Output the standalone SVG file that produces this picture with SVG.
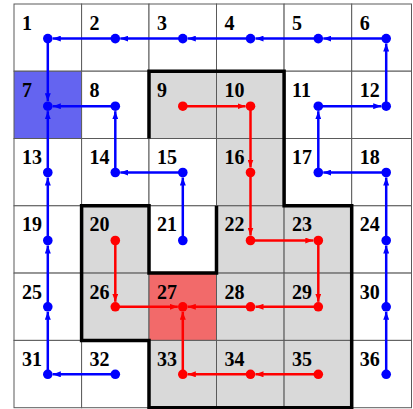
<svg xmlns="http://www.w3.org/2000/svg" width="413" height="409" viewBox="0 0 413 409">
<style>
.c{fill:#ffffff;stroke:#5a5a5a;stroke-width:1}
.g{fill:#d9d9d9;stroke:#5a5a5a;stroke-width:1}
.b{fill:#6464f0;stroke:#5a5a5a;stroke-width:1}
.r{fill:#f26a6a;stroke:#5a5a5a;stroke-width:1}
text{font-family:"Liberation Serif","Times New Roman",serif;font-weight:bold;font-size:20px;fill:#000}
.db{fill:#0000ff}
.dr{fill:#ff0000}
.lb{stroke:#0000ff;stroke-width:2.5;fill:none;marker-end:url(#ab)}
.lr{stroke:#ff0000;stroke-width:2.5;fill:none;marker-end:url(#ar)}
.outline{fill:none;stroke:#000;stroke-width:3.5;stroke-linejoin:miter}
</style>
<defs>
<marker id="ab" viewBox="0 0 8 6" refX="8" refY="3" markerWidth="8" markerHeight="6" markerUnits="userSpaceOnUse" orient="auto"><path d="M0,0 L8,3 L0,6 z" fill="#0000ff"/></marker>
<marker id="ar" viewBox="0 0 8 6" refX="8" refY="3" markerWidth="8" markerHeight="6" markerUnits="userSpaceOnUse" orient="auto"><path d="M0,0 L8,3 L0,6 z" fill="#ff0000"/></marker>
</defs>
<rect x="0" y="0" width="413" height="409" fill="#ffffff"/>
<g id="nodes">
<g id="n1"><rect class="c" x="14" y="4" width="67.6" height="67.2"/><text x="22" y="29.5">1</text><circle class="db" cx="47.8" cy="38.6" r="4.8"/></g>
<g id="n2"><rect class="c" x="81.6" y="4" width="67.4" height="67.2"/><text x="89.6" y="29.5">2</text><circle class="db" cx="115.3" cy="38.6" r="4.8"/></g>
<g id="n3"><rect class="c" x="149" y="4" width="67.5" height="67.2"/><text x="157" y="29.5">3</text><circle class="db" cx="182.8" cy="38.6" r="4.8"/></g>
<g id="n4"><rect class="c" x="216.5" y="4" width="67.6" height="67.2"/><text x="224.5" y="29.5">4</text><circle class="db" cx="250.5" cy="38.6" r="4.8"/></g>
<g id="n5"><rect class="c" x="284.1" y="4" width="67.6" height="67.2"/><text x="292.1" y="29.5">5</text><circle class="db" cx="318.3" cy="38.6" r="4.8"/></g>
<g id="n6"><rect class="c" x="351.7" y="4" width="59.8" height="67.2"/><text x="359.7" y="29.5">6</text><circle class="db" cx="386.2" cy="38.6" r="4.8"/></g>

<g id="n7"><rect class="b" x="14" y="71.2" width="67.6" height="67.3"/><text x="22" y="96.7">7</text><circle class="db" cx="47.8" cy="106.2" r="4.8"/></g>
<g id="n8"><rect class="c" x="81.6" y="71.2" width="67.4" height="67.3"/><text x="89.6" y="96.7">8</text><circle class="db" cx="115.3" cy="106.2" r="4.8"/></g>
<g id="n9"><rect class="g" x="149" y="71.2" width="67.5" height="67.3"/><text x="157" y="96.7">9</text><circle class="dr" cx="182.8" cy="106.2" r="4.8"/></g>
<g id="n10"><rect class="g" x="216.5" y="71.2" width="67.6" height="67.3"/><text x="224.5" y="96.7">10</text><circle class="dr" cx="250.5" cy="106.2" r="4.8"/></g>
<g id="n11"><rect class="c" x="284.1" y="71.2" width="67.6" height="67.3"/><text x="292.1" y="96.7">11</text><circle class="db" cx="318.3" cy="106.2" r="4.8"/></g>
<g id="n12"><rect class="c" x="351.7" y="71.2" width="59.8" height="67.3"/><text x="359.7" y="96.7">12</text><circle class="db" cx="386.2" cy="106.2" r="4.8"/></g>

<g id="n13"><rect class="c" x="14" y="138.5" width="67.6" height="67.3"/><text x="22" y="164">13</text><circle class="db" cx="47.8" cy="172.5" r="4.8"/></g>
<g id="n14"><rect class="c" x="81.6" y="138.5" width="67.4" height="67.3"/><text x="89.6" y="164">14</text><circle class="db" cx="115.3" cy="172.5" r="4.8"/></g>
<g id="n15"><rect class="c" x="149" y="138.5" width="67.5" height="67.3"/><text x="157" y="164">15</text><circle class="db" cx="182.8" cy="172.5" r="4.8"/></g>
<g id="n16"><rect class="g" x="216.5" y="138.5" width="67.6" height="67.3"/><text x="224.5" y="164">16</text><circle class="dr" cx="250.5" cy="172.5" r="4.8"/></g>
<g id="n17"><rect class="c" x="284.1" y="138.5" width="67.6" height="67.3"/><text x="292.1" y="164">17</text><circle class="db" cx="318.3" cy="172.5" r="4.8"/></g>
<g id="n18"><rect class="c" x="351.7" y="138.5" width="59.8" height="67.3"/><text x="359.7" y="164">18</text><circle class="db" cx="386.2" cy="172.5" r="4.8"/></g>

<g id="n19"><rect class="c" x="14" y="205.8" width="67.6" height="67.3"/><text x="22" y="231.3">19</text><circle class="db" cx="47.8" cy="240.5" r="4.8"/></g>
<g id="n20"><rect class="g" x="81.6" y="205.8" width="67.4" height="67.3"/><text x="89.6" y="231.3">20</text><circle class="dr" cx="115.3" cy="240.5" r="4.8"/></g>
<g id="n21"><rect class="c" x="149" y="205.8" width="67.5" height="67.3"/><text x="157" y="231.3">21</text><circle class="db" cx="182.8" cy="240.5" r="4.8"/></g>
<g id="n22"><rect class="g" x="216.5" y="205.8" width="67.6" height="67.3"/><text x="224.5" y="231.3">22</text><circle class="dr" cx="250.5" cy="240.5" r="4.8"/></g>
<g id="n23"><rect class="g" x="284.1" y="205.8" width="67.6" height="67.3"/><text x="292.1" y="231.3">23</text><circle class="dr" cx="318.3" cy="240.5" r="4.8"/></g>
<g id="n24"><rect class="c" x="351.7" y="205.8" width="59.8" height="67.3"/><text x="359.7" y="231.3">24</text><circle class="db" cx="386.2" cy="240.5" r="4.8"/></g>

<g id="n25"><rect class="c" x="14" y="273.1" width="67.6" height="67.3"/><text x="22" y="298.6">25</text><circle class="db" cx="47.8" cy="306.8" r="4.8"/></g>
<g id="n26"><rect class="g" x="81.6" y="273.1" width="67.4" height="67.3"/><text x="89.6" y="298.6">26</text><circle class="dr" cx="115.3" cy="306.8" r="4.8"/></g>
<g id="n27"><rect class="r" x="149" y="273.1" width="67.5" height="67.3"/><text x="157" y="298.6">27</text><circle class="dr" cx="182.8" cy="306.8" r="4.8"/></g>
<g id="n28"><rect class="g" x="216.5" y="273.1" width="67.6" height="67.3"/><text x="224.5" y="298.6">28</text><circle class="dr" cx="250.5" cy="306.8" r="4.8"/></g>
<g id="n29"><rect class="g" x="284.1" y="273.1" width="67.6" height="67.3"/><text x="292.1" y="298.6">29</text><circle class="dr" cx="318.3" cy="306.8" r="4.8"/></g>
<g id="n30"><rect class="c" x="351.7" y="273.1" width="59.8" height="67.3"/><text x="359.7" y="298.6">30</text><circle class="db" cx="386.2" cy="306.8" r="4.8"/></g>

<g id="n31"><rect class="c" x="14" y="340.4" width="67.6" height="67.3"/><text x="22" y="365.9">31</text><circle class="db" cx="47.8" cy="374.3" r="4.8"/></g>
<g id="n32"><rect class="c" x="81.6" y="340.4" width="67.4" height="67.3"/><text x="89.6" y="365.9">32</text><circle class="db" cx="115.3" cy="374.3" r="4.8"/></g>
<g id="n33"><rect class="g" x="149" y="340.4" width="67.5" height="67.3"/><text x="157" y="365.9">33</text><circle class="dr" cx="182.8" cy="374.3" r="4.8"/></g>
<g id="n34"><rect class="g" x="216.5" y="340.4" width="67.6" height="67.3"/><text x="224.5" y="365.9">34</text><circle class="dr" cx="250.5" cy="374.3" r="4.8"/></g>
<g id="n35"><rect class="g" x="284.1" y="340.4" width="67.6" height="67.3"/><text x="292.1" y="365.9">35</text><circle class="dr" cx="318.3" cy="374.3" r="4.8"/></g>
<g id="n36"><rect class="c" x="351.7" y="340.4" width="59.8" height="67.3"/><text x="359.7" y="365.9">36</text><circle class="db" cx="386.2" cy="374.3" r="4.8"/></g>
</g>
<g id="region-outline">
<path class="outline" d="M216.5,205.8 V273.1 H149 V205.8 H81.6 V340.4 H149 V407.7 H351.7 V205.8 H284.1 V71.2 H149 V138.5"/>
</g>
<g id="connectors">
<line class="lb" x1="386.2" y1="38.6" x2="323.3" y2="38.6"/>
<line class="lb" x1="318.3" y1="38.6" x2="255.5" y2="38.6"/>
<line class="lb" x1="250.5" y1="38.6" x2="187.8" y2="38.6"/>
<line class="lb" x1="182.8" y1="38.6" x2="120.3" y2="38.6"/>
<line class="lb" x1="115.3" y1="38.6" x2="52.8" y2="38.6"/>
<line class="lb" x1="47.8" y1="38.6" x2="47.8" y2="101.2"/>
<line class="lb" x1="115.3" y1="106.2" x2="52.8" y2="106.2"/>
<line class="lb" x1="115.3" y1="172.5" x2="115.3" y2="111.2"/>
<line class="lb" x1="182.8" y1="172.5" x2="120.3" y2="172.5"/>
<line class="lb" x1="182.8" y1="240.5" x2="182.8" y2="177.5"/>
<line class="lb" x1="47.8" y1="172.5" x2="47.8" y2="111.2"/>
<line class="lb" x1="47.8" y1="240.5" x2="47.8" y2="177.5"/>
<line class="lb" x1="47.8" y1="306.8" x2="47.8" y2="245.5"/>
<line class="lb" x1="47.8" y1="374.3" x2="47.8" y2="311.8"/>
<line class="lb" x1="115.3" y1="374.3" x2="52.8" y2="374.3"/>
<line class="lb" x1="386.2" y1="106.2" x2="386.2" y2="43.6"/>
<line class="lb" x1="318.3" y1="106.2" x2="381.2" y2="106.2"/>
<line class="lb" x1="318.3" y1="172.5" x2="318.3" y2="111.2"/>
<line class="lb" x1="386.2" y1="172.5" x2="323.3" y2="172.5"/>
<line class="lb" x1="386.2" y1="240.5" x2="386.2" y2="177.5"/>
<line class="lb" x1="386.2" y1="306.8" x2="386.2" y2="245.5"/>
<line class="lb" x1="386.2" y1="374.3" x2="386.2" y2="311.8"/>
<line class="lr" x1="182.8" y1="106.2" x2="245.5" y2="106.2"/>
<line class="lr" x1="250.5" y1="106.2" x2="250.5" y2="167.5"/>
<line class="lr" x1="250.5" y1="172.5" x2="250.5" y2="235.5"/>
<line class="lr" x1="250.5" y1="240.5" x2="313.3" y2="240.5"/>
<line class="lr" x1="318.3" y1="240.5" x2="318.3" y2="301.8"/>
<line class="lr" x1="318.3" y1="306.8" x2="255.5" y2="306.8"/>
<line class="lr" x1="250.5" y1="306.8" x2="187.8" y2="306.8"/>
<line class="lr" x1="115.3" y1="240.5" x2="115.3" y2="301.8"/>
<line class="lr" x1="115.3" y1="306.8" x2="177.8" y2="306.8"/>
<line class="lr" x1="318.3" y1="374.3" x2="255.5" y2="374.3"/>
<line class="lr" x1="250.5" y1="374.3" x2="187.8" y2="374.3"/>
<line class="lr" x1="182.8" y1="374.3" x2="182.8" y2="311.8"/>
</g>
</svg>
